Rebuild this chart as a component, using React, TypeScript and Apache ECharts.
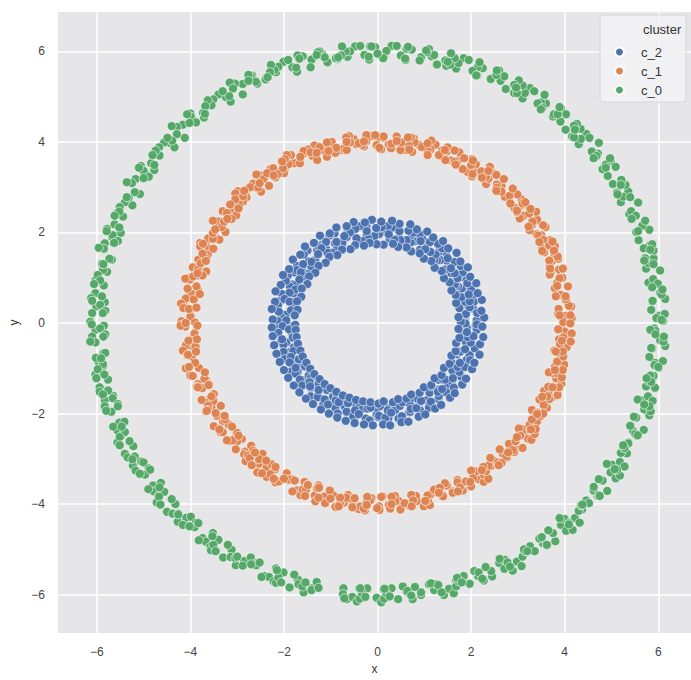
import React, { useEffect, useRef } from "react";
import * as echarts from "echarts";

const clusterNames = ["c_2", "c_1", "c_0"];
const clusterColors = ["#4c72b0", "#dd8452", "#55a868"];
const legendTitle = "cluster";
const xAxisName = "x";
const yAxisName = "y";
const xRange = [-6.83, 6.7];
const yRange = [-6.85, 6.87];

// cluster c_2 (inner ring)
const c2Points: number[][] = [
  [2.12,0.06],[1.91,-0.11],[1.87,0.13],[2.10,-0.05],[2.04,0.32],[1.85,0.14],[2.13,0.22],[1.94,0.36],[1.89,0.20],[2.06,0.47],
  [1.97,0.35],[1.80,0.56],[2.07,0.63],[1.87,0.47],[1.80,0.76],[1.97,0.48],[2.00,0.74],[1.79,0.57],[1.72,0.81],[1.95,0.63],
  [1.86,1.00],[1.67,0.82],[1.92,0.88],[1.73,1.02],[1.65,0.85],[1.82,1.12],[1.71,0.99],[1.54,1.20],[1.78,1.26],[1.58,1.10],
  [1.48,1.38],[1.65,1.10],[1.65,1.35],[1.44,1.18],[1.34,1.39],[1.57,1.21],[1.46,1.56],[1.27,1.38],[1.50,1.43],[1.31,1.57],
  [1.21,1.38],[1.38,1.65],[1.24,1.51],[1.07,1.72],[1.29,1.75],[1.09,1.59],[0.96,1.85],[1.13,1.57],[1.12,1.79],[0.91,1.62],
  [0.79,1.81],[1.02,1.63],[0.90,1.96],[0.71,1.78],[0.92,1.81],[0.73,1.95],[0.60,1.73],[0.77,2.00],[0.62,1.83],[0.45,2.04],
  [0.66,2.04],[0.46,1.88],[0.32,2.11],[0.49,1.83],[0.47,2.03],[0.26,1.86],[0.13,2.02],[0.36,1.84],[0.22,2.14],[0.03,1.96],
  [0.24,1.96],[0.05,2.10],
  [-0.08,1.85],[0.09,2.12],[-0.07,1.92],[-0.24,2.13],[-0.03,2.10],[-0.23,1.94],[-0.37,2.14],[-0.20,1.86],[-0.23,2.03],[-0.44,1.86],
  [-0.56,1.99],[-0.33,1.81],[-0.47,2.08],[-0.66,1.90],[-0.45,1.87],[-0.64,2.01],[-0.76,1.73],[-0.59,2.00],[-0.75,1.77],[-0.92,1.98],
  [-0.71,1.92],[-0.91,1.76],[-1.03,1.93],[-0.86,1.65],[-0.88,1.79],[-1.09,1.62],[-1.20,1.73],[-0.97,1.55],[-1.10,1.79],[-1.29,1.61],
  [-1.07,1.55],[-1.26,1.69],[-1.37,1.38],[-1.20,1.65],[-1.33,1.39],[-1.50,1.60],[-1.27,1.52],[-1.47,1.36],[-1.58,1.51],[-1.41,1.23],
  [-1.41,1.35],[-1.62,1.18],[-1.72,1.26],[-1.49,1.08],[-1.59,1.30],[-1.78,1.12],[-1.54,1.03],[-1.73,1.17],[-1.81,0.85],[-1.64,1.12],
  [-1.75,0.84],[-1.92,1.05],[-1.67,0.96],[-1.87,0.80],[-1.96,0.93],[-1.79,0.65],[-1.76,0.74],[-1.97,0.57],[-2.04,0.64],[-1.81,0.46],
  [-1.88,0.67],[-2.07,0.49],[-1.80,0.39],[-1.99,0.53],[-2.05,0.20],[-1.88,0.47],[-1.96,0.18],[-2.13,0.39],[-1.85,0.28],[-2.05,0.12],
  [-2.11,0.25],[-1.94,-0.03],
  [-2.13,0.04],[-1.90,-0.14],[-1.95,0.06],[-2.14,-0.12],[-1.84,-0.21],[-2.03,-0.07],[-2.06,-0.41],[-1.89,-0.14],[-1.95,-0.43],[-2.12,-0.22],
  [-1.81,-0.32],[-2.01,-0.48],[-2.04,-0.36],[-1.87,-0.64],[-1.79,-0.54],[-2.00,-0.71],[-2.01,-0.64],[-1.78,-0.82],[-1.80,-0.62],[-1.99,-0.80],
  [-1.66,-0.89],[-1.85,-0.75],[-1.85,-1.07],[-1.68,-0.80],[-1.71,-1.08],[-1.88,-0.87],[-1.55,-0.96],[-1.75,-1.12],[-1.75,-0.99],[-1.58,-1.27],
  [-1.47,-1.16],[-1.68,-1.33],[-1.66,-1.25],[-1.43,-1.43],[-1.42,-1.20],[-1.61,-1.38],[-1.26,-1.45],[-1.45,-1.31],[-1.43,-1.62],[-1.26,-1.35],
  [-1.27,-1.61],[-1.44,-1.40],[-1.08,-1.48],[-1.28,-1.64],[-1.26,-1.48],[-1.09,-1.76],[-0.95,-1.63],[-1.16,-1.80],[-1.13,-1.69],[-0.90,-1.87],
  [-0.87,-1.62],[-1.06,-1.80],[-0.70,-1.85],[-0.89,-1.71],[-0.85,-2.00],[-0.68,-1.73],[-0.66,-1.96],[-0.83,-1.75],[-0.46,-1.80],[-0.66,-1.96],
  [-0.63,-1.77],[-0.46,-2.05],[-0.31,-1.89],[-0.52,-2.06],[-0.48,-1.93],[-0.25,-2.11],[-0.21,-1.83],[-0.40,-2.01],[-0.02,-2.03],[-0.21,-1.89],
  [-0.17,-2.15],[0.00,-1.88],
  [0.02,-2.08],[-0.15,-1.87],[0.23,-1.89],[0.03,-2.05],[0.06,-1.83],[0.23,-2.11],[0.38,-1.92],[0.17,-2.09],[0.22,-1.93],[0.45,-2.11],
  [0.48,-1.80],[0.29,-1.98],[0.67,-1.97],[0.48,-1.83],[0.52,-2.06],[0.69,-1.79],[0.70,-1.96],[0.53,-1.75],[0.91,-1.74],[0.71,-1.90],
  [0.74,-1.65],[0.91,-1.93],[1.04,-1.71],[0.83,-1.88],[0.87,-1.69],[1.10,-1.87],[1.12,-1.54],[0.93,-1.72],[1.30,-1.68],[1.11,-1.54],
  [1.14,-1.74],[1.31,-1.47],[1.31,-1.61],[1.14,-1.40],[1.49,-1.36],[1.29,-1.52],[1.30,-1.25],[1.47,-1.53],[1.59,-1.29],[1.38,-1.46],
  [1.40,-1.25],[1.63,-1.43],[1.64,-1.07],[1.45,-1.25],[1.79,-1.19],[1.60,-1.05],[1.61,-1.22],[1.78,-0.95],[1.75,-1.08],[1.58,-0.87],
  [1.91,-0.81],[1.71,-0.97],[1.70,-0.69],[1.87,-0.97],[1.97,-0.71],[1.76,-0.88],[1.75,-0.64],[1.98,-0.82],[1.96,-0.45],[1.77,-0.63],
  [2.08,-0.56],[1.89,-0.42],[1.87,-0.58],[2.04,-0.31],[1.99,-0.43],[1.82,-0.22],[2.12,-0.15],[1.92,-0.31],[1.88,-0.01],[2.05,-0.29],
  [2.12,-0.03],[1.91,-0.20],
  [1.78,0.03],[1.73,0.13],[1.75,0.33],[1.68,0.44],[1.67,0.62],[1.58,0.72],[1.54,0.90],[1.42,0.99],[1.37,1.15],[1.22,1.22],
  [1.15,1.37],[0.99,1.42],[0.90,1.54],[0.72,1.58],[0.62,1.67],[0.44,1.68],[0.33,1.75],[0.13,1.73],
  [2.28,0.12],[2.22,0.27],[2.23,0.51],[2.14,0.66],[2.11,0.88],[1.98,1.02],[1.93,1.23],[1.77,1.36],[1.69,1.55],[1.51,1.65],
  [1.40,1.81],[1.19,1.89],[1.06,2.02],[0.84,2.07],[0.70,2.18],[0.47,2.19],[0.31,2.26],[0.08,2.24],
  [-0.02,1.74],[-0.17,1.77],[-0.29,1.71],[-0.48,1.72],[-0.58,1.63],[-0.76,1.62],[-0.86,1.50],[-1.03,1.46],[-1.11,1.33],[-1.26,1.26],
  [-1.33,1.11],[-1.46,1.03],[-1.50,0.86],[-1.62,0.76],[-1.63,0.58],[-1.72,0.48],[-1.71,0.29],[-1.77,0.17],
  [-0.12,2.28],[-0.27,2.22],[-0.51,2.23],[-0.66,2.14],[-0.88,2.11],[-1.02,1.98],[-1.23,1.93],[-1.36,1.77],[-1.55,1.69],[-1.65,1.51],
  [-1.81,1.40],[-1.89,1.19],[-2.02,1.06],[-2.07,0.84],[-2.18,0.70],[-2.19,0.47],[-2.26,0.31],[-2.24,0.08],
  [-1.76,-0.04],[-1.75,-0.15],[-1.73,-0.31],[-1.70,-0.46],[-1.65,-0.61],[-1.60,-0.74],[-1.52,-0.88],[-1.44,-1.01],[-1.35,-1.13],[-1.24,-1.24],
  [-1.13,-1.35],[-1.01,-1.44],[-0.88,-1.52],[-0.74,-1.60],[-0.60,-1.65],[-0.46,-1.70],[-0.31,-1.73],[-0.15,-1.75],
  [-2.26,-0.10],[-2.24,-0.29],[-2.21,-0.49],[-2.16,-0.68],[-2.09,-0.86],[-2.00,-1.04],[-1.91,-1.21],[-1.79,-1.38],[-1.67,-1.53],[-1.53,-1.67],
  [-1.38,-1.79],[-1.21,-1.91],[-1.04,-2.00],[-0.86,-2.09],[-0.68,-2.16],[-0.49,-2.21],[-0.29,-2.24],[-0.10,-2.26],
  [0.02,-1.78],[0.13,-1.73],[0.33,-1.75],[0.44,-1.68],[0.62,-1.67],[0.72,-1.58],[0.90,-1.54],[0.99,-1.42],[1.15,-1.37],[1.22,-1.22],
  [1.37,-1.15],[1.42,-0.99],[1.54,-0.90],[1.58,-0.72],[1.67,-0.62],[1.68,-0.44],[1.75,-0.33],[1.73,-0.13],
  [0.12,-2.24],[0.27,-2.26],[0.51,-2.19],[0.66,-2.18],[0.88,-2.07],[1.02,-2.02],[1.23,-1.89],[1.36,-1.81],[1.55,-1.65],[1.65,-1.55],
  [1.81,-1.36],[1.89,-1.23],[2.02,-1.02],[2.07,-0.88],[2.18,-0.70],[2.19,-0.47],[2.26,-0.31],[2.24,-0.08]
];

// cluster c_1 (middle ring)
const c1Points: number[][] = [
  [4.10,0.05],[3.92,-0.12],[4.02,0.16],[3.86,0.20],[4.15,0.11],[3.97,0.02],[4.04,0.49],[3.87,0.31],[4.14,0.36],
  [3.92,0.61],[4.09,0.38],[3.82,0.63],[4.07,0.81],[3.92,0.62],[4.02,0.53],[3.79,0.77],[3.95,1.00],[3.84,0.89],
  [3.89,0.99],[3.70,1.12],[3.97,1.21],[3.72,1.36],[3.88,1.18],[3.68,1.07],[3.86,1.42],[3.68,1.25],[3.78,1.53],
  [3.56,1.56],[3.85,1.47],[3.67,1.38],[3.69,1.83],[3.52,1.65],[3.79,1.70],[3.50,1.94],[3.67,1.71],[3.40,1.96],
  [3.59,2.12],[3.44,1.93],[3.54,1.84],[3.25,2.05],[3.41,2.28],[3.30,2.17],[3.31,2.24],[3.12,2.37],[3.39,2.46],
  [3.08,2.60],[3.24,2.42],[3.04,2.31],[3.16,2.62],[2.98,2.45],[3.08,2.73],[2.81,2.73],[3.10,2.64],[2.92,2.55],
  [2.89,2.97],[2.72,2.79],[2.99,2.84],[2.65,3.04],[2.82,2.81],[2.55,3.06],[2.70,3.18],[2.55,2.99],[2.65,2.90],
  [2.32,3.07],[2.48,3.30],[2.37,3.19],[2.32,3.23],[2.13,3.36],[2.40,3.45],[2.06,3.53],[2.22,3.35],[2.02,3.24],
  [2.10,3.51],[1.92,3.34],[2.02,3.62],[1.71,3.58],[2.00,3.49],[1.82,3.40],[1.75,3.77],[1.58,3.59],[1.85,3.64],
  [1.48,3.79],[1.65,3.56],[1.38,3.81],[1.50,3.88],[1.35,3.69],[1.45,3.60],[1.08,3.71],[1.24,3.94],[1.13,3.83],
  [1.07,3.81],[0.88,3.94],[1.15,4.03],[0.78,4.07],[0.94,3.89],[0.74,3.78],[0.79,3.99],[0.61,3.82],[0.71,4.10],
  [0.38,4.00],[0.67,3.91],[0.49,3.82],[0.41,4.12],[0.24,3.94],[0.51,3.99],[0.12,4.09],[0.29,3.86],[0.02,4.11],
  [0.13,4.12],[-0.02,3.93],[0.08,3.84],[-0.29,3.90],[-0.13,4.13],[-0.24,4.02],[-0.32,3.93],[-0.51,4.06],[-0.24,4.15],
  [-0.61,4.13],[-0.45,3.95],[-0.65,3.84],[-0.59,3.99],[-0.77,3.82],[-0.67,4.10],[-1.01,3.94],[-0.72,3.85],[-0.90,3.76],
  [-0.98,4.00],[-1.15,3.82],[-0.88,3.87],[-1.25,3.90],[-1.08,3.67],[-1.35,3.92],[-1.24,3.88],[-1.39,3.69],[-1.29,3.60],
  [-1.65,3.60],[-1.49,3.83],[-1.60,3.72],[-1.66,3.58],[-1.85,3.71],[-1.58,3.80],[-1.94,3.71],[-1.78,3.53],[-1.98,3.42],
  [-1.90,3.51],[-2.08,3.34],[-1.98,3.62],[-2.29,3.40],[-2.00,3.31],[-2.18,3.22],[-2.23,3.42],[-2.40,3.24],[-2.13,3.29],
  [-2.49,3.26],[-2.32,3.03],[-2.59,3.28],[-2.44,3.18],[-2.59,2.99],[-2.49,2.90],[-2.82,2.85],[-2.66,3.08],[-2.77,2.97],
  [-2.80,2.78],[-2.99,2.91],[-2.72,3.00],[-3.04,2.86],[-2.88,2.68],[-3.08,2.57],[-2.96,2.62],[-3.14,2.45],[-3.04,2.73],
  [-3.31,2.47],[-3.02,2.38],[-3.20,2.29],[-3.22,2.43],[-3.39,2.25],[-3.12,2.30],[-3.42,2.24],[-3.25,2.01],[-3.52,2.26],
  [-3.33,2.12],[-3.48,1.93],[-3.38,1.84],[-3.67,1.75],[-3.51,1.98],[-3.62,1.87],[-3.60,1.64],[-3.79,1.77],[-3.52,1.86],
  [-3.79,1.69],[-3.63,1.51],[-3.83,1.40],[-3.66,1.42],[-3.84,1.25],[-3.74,1.53],[-3.95,1.23],[-3.66,1.14],[-3.84,1.05],
  [-3.84,1.18],[-4.01,1.00],[-3.74,1.05],[-4.01,0.96],[-3.84,0.73],[-4.11,0.98],[-3.87,0.81],[-4.02,0.62],[-3.92,0.53],
  [-4.15,0.42],[-3.99,0.65],[-4.10,0.54],[-4.01,0.30],[-4.20,0.43],[-3.93,0.52],[-4.15,0.33],[-3.99,0.15],[-4.19,0.04],
  [-4.00,0.14],[-4.17,-0.04],[-3.90,0.01],[-4.11,-0.08],[-3.94,-0.31],[-4.21,-0.06],[-3.91,-0.23],[-4.06,-0.42],[-3.96,-0.51],
  [-4.15,-0.62],[-3.99,-0.39],[-4.10,-0.50],[-3.97,-0.74],[-4.16,-0.61],[-3.89,-0.52],[-4.06,-0.71],[-3.90,-0.89],[-4.10,-1.00],
  [-3.82,-0.99],[-4.00,-1.16],[-3.90,-0.88],[-3.95,-1.17],[-3.66,-1.26],[-3.84,-1.35],[-3.70,-1.23],[-3.87,-1.41],[-3.60,-1.36],
  [-3.75,-1.44],[-3.58,-1.67],[-3.85,-1.42],[-3.50,-1.57],[-3.65,-1.76],[-3.55,-1.85],[-3.67,-1.95],[-3.51,-1.72],[-3.62,-1.83],
  [-3.43,-2.05],[-3.62,-1.92],[-3.35,-1.83],[-3.46,-1.99],[-3.30,-2.17],[-3.50,-2.28],[-3.18,-2.24],[-3.36,-2.41],[-3.26,-2.13],
  [-3.31,-2.41],[-3.02,-2.50],[-3.20,-2.59],[-3.00,-2.43],[-3.17,-2.61],[-2.90,-2.56],[-3.00,-2.61],[-2.83,-2.84],[-3.10,-2.59],
  [-2.70,-2.71],[-2.85,-2.90],[-2.75,-2.99],[-2.82,-3.05],[-2.66,-2.82],[-2.77,-2.93],[-2.54,-3.11],[-2.73,-2.98],[-2.46,-2.89],
  [-2.53,-3.01],[-2.37,-3.19],[-2.57,-3.30],[-2.19,-3.23],[-2.37,-3.40],[-2.27,-3.12],[-2.29,-3.34],[-2.00,-3.43],[-2.18,-3.52],
  [-1.94,-3.32],[-2.11,-3.50],[-1.84,-3.45],[-1.90,-3.46],[-1.73,-3.69],[-2.00,-3.44],[-1.56,-3.51],[-1.71,-3.70],[-1.61,-3.79],
  [-1.65,-3.80],[-1.49,-3.57],[-1.60,-3.68],[-1.34,-3.81],[-1.53,-3.68],[-1.26,-3.59],[-1.29,-3.65],[-1.13,-3.83],[-1.33,-3.94],
  [-0.94,-3.81],[-1.12,-3.98],[-1.02,-3.70],[-1.01,-3.88],[-0.72,-3.97],[-0.90,-4.06],[-0.63,-3.80],[-0.80,-3.98],[-0.53,-3.93],
  [-0.57,-3.88],[-0.40,-4.11],[-0.67,-3.86],[-0.22,-3.86],[-0.37,-4.05],[-0.27,-4.14],[-0.29,-4.10],[-0.13,-3.87],[-0.24,-3.98],
  [0.03,-4.05],[-0.16,-3.92],[0.11,-3.83],[0.08,-3.84],[0.24,-4.02],[0.04,-4.13],[0.45,-3.93],[0.27,-4.10],[0.37,-3.82],
  [0.38,-3.94],[0.67,-4.03],[0.49,-4.12],[0.75,-3.80],[0.58,-3.98],[0.85,-3.93],[0.82,-3.82],[0.99,-4.05],[0.72,-3.80],
  [1.17,-3.74],[1.02,-3.93],[1.12,-4.02],[1.08,-3.91],[1.24,-3.68],[1.13,-3.79],[1.40,-3.81],[1.21,-3.68],[1.48,-3.59],
  [1.44,-3.54],[1.60,-3.72],[1.40,-3.83],[1.79,-3.58],[1.61,-3.75],[1.71,-3.47],[1.71,-3.52],[2.00,-3.61],[1.82,-3.70],
  [2.06,-3.32],[1.89,-3.50],[2.16,-3.45],[2.10,-3.28],[2.27,-3.51],[2.00,-3.26],[2.42,-3.16],[2.27,-3.35],[2.37,-3.44],
  [2.32,-3.27],[2.48,-3.04],[2.37,-3.15],[2.60,-3.11],[2.41,-2.98],[2.68,-2.89],[2.61,-2.79],[2.77,-2.97],[2.57,-3.08],
  [2.93,-2.78],[2.75,-2.95],[2.85,-2.67],[2.81,-2.67],[3.10,-2.76],[2.92,-2.85],[3.12,-2.43],[2.95,-2.61],[3.22,-2.56],
  [3.12,-2.35],[3.29,-2.58],[3.02,-2.33],[3.41,-2.17],[3.26,-2.36],[3.36,-2.45],[3.25,-2.25],[3.41,-2.02],[3.30,-2.13],
  [3.49,-2.05],[3.30,-1.92],[3.57,-1.83],[3.46,-1.69],[3.62,-1.87],[3.42,-1.98],[3.73,-1.64],[3.55,-1.81],[3.65,-1.53],
  [3.56,-1.50],[3.85,-1.59],[3.67,-1.68],[3.82,-1.23],[3.65,-1.41],[3.92,-1.36],[3.76,-1.11],[3.93,-1.34],[3.66,-1.09],
  [3.99,-0.92],[3.84,-1.11],[3.94,-1.20],[3.79,-0.97],[3.95,-0.74],[3.84,-0.85],[3.97,-0.74],[3.78,-0.61],[4.05,-0.52],
  [3.88,-0.36],[4.04,-0.54],[3.84,-0.65],[4.08,-0.30],[3.90,-0.47],[4.00,-0.19],[3.86,-0.14],[4.15,-0.23],[3.97,-0.32],
  [4.12,0.17],[3.89,0.17],[4.02,0.59],[3.81,0.59],[4.07,0.81],[3.84,0.82],[3.96,1.20],[3.69,1.20],[3.77,1.60],[3.52,1.59],
  [3.74,1.80],[3.46,1.79],[3.54,2.16],[3.23,2.13],[3.27,2.52],[2.98,2.48],[3.16,2.67],[2.84,2.64],[2.89,2.97],[2.54,2.92],
  [2.54,3.27],[2.23,3.21],[2.37,3.36],[2.03,3.29],[2.04,3.59],[1.67,3.50],[1.65,3.81],[1.31,3.71],[1.44,3.82],[1.07,3.71],
  [1.07,3.97],[0.68,3.83],[0.65,4.10],[0.30,3.96],[0.41,4.02],[0.04,3.87],
  [-0.05,4.15],[-0.40,3.97],[-0.29,4.01],[-0.66,3.82],[-0.66,4.00],[-1.05,3.80],[-1.08,3.99],[-1.43,3.77],[-1.30,3.76],[-1.66,3.53],
  [-1.65,3.67],[-2.02,3.42],[-2.04,3.57],[-2.36,3.31],[-2.22,3.26],[-2.55,2.99],[-2.52,3.09],[-2.87,2.80],[-2.85,2.92],[-3.15,2.62],
  [-2.97,2.53],[-3.28,2.24],[-3.21,2.30],[-3.52,1.99],[-3.47,2.07],[-3.73,1.75],[-3.51,1.64],[-3.78,1.32],[-3.67,1.37],[-3.94,1.03],
  [-3.85,1.10],[-4.06,0.76],[-3.80,0.64],[-4.03,0.31],[-3.87,0.34],[-4.10,0.00],
  [-3.85,-0.06],[-4.04,-0.39],[-3.86,-0.36],[-4.05,-0.70],[-3.88,-0.63],[-4.03,-0.97],[-3.69,-1.09],[-3.84,-1.42],[-3.61,-1.37],[-3.76,-1.70],
  [-3.55,-1.62],[-3.65,-1.94],[-3.27,-2.05],[-3.38,-2.35],[-3.11,-2.29],[-3.22,-2.59],[-2.97,-2.49],[-3.03,-2.79],[-2.62,-2.86],[-2.69,-3.14],
  [-2.38,-3.04],[-2.47,-3.32],[-2.18,-3.18],[-2.22,-3.44],[-1.77,-3.48],[-1.82,-3.72],[-1.49,-3.58],[-1.55,-3.82],[-1.25,-3.64],[-1.26,-3.86],
  [-0.80,-3.86],[-0.83,-4.05],[-0.49,-3.87],[-0.54,-4.07],[-0.22,-3.84],[-0.23,-4.02],
  [-0.01,-4.09],[0.30,-3.84],[0.30,-4.00],[0.76,-3.92],[0.73,-4.05],[1.07,-3.81],[1.02,-3.93],[1.33,-3.64],[1.31,-3.75],[1.76,-3.63],
  [1.72,-3.72],[2.04,-3.43],[1.98,-3.51],[2.26,-3.18],[2.23,-3.25],[2.65,-3.09],[2.59,-3.14],[2.89,-2.81],[2.79,-2.86],[3.05,-2.49],
  [2.98,-2.52],[3.38,-2.34],[3.28,-2.35],[3.54,-2.00],[3.41,-2.01],[3.63,-1.62],[3.52,-1.63],[3.88,-1.42],[3.74,-1.42],[3.96,-1.04],
  [3.79,-1.04],[3.96,-0.63],[3.81,-0.63],[4.13,-0.41],[3.94,-0.39],[4.12,-0.01]
];

// cluster c_0 (outer ring)
const c0Points: number[][] = [
  [6.10,0.05],[5.92,-0.12],[6.02,0.16],[5.85,0.29],[6.14,0.20],[5.96,0.11],[6.04,0.66],[5.87,0.48],[6.15,0.53],
  [5.90,0.87],[6.07,0.63],[5.79,0.89],[6.04,1.16],[5.89,0.97],[5.99,0.87],[5.74,1.20],[5.90,1.43],[5.79,1.32],
  [5.90,1.60],[5.72,1.43],[5.82,1.71],[5.58,1.83],[5.87,1.74],[5.69,1.65],[5.70,2.19],[5.53,2.01],[5.81,2.06],
  [5.49,2.39],[5.66,2.15],[5.38,2.41],[5.57,2.66],[5.42,2.47],[5.52,2.37],[5.20,2.67],[5.36,2.90],[5.25,2.79],
  [5.30,3.05],[5.12,2.88],[5.22,3.16],[4.92,3.25],[5.21,3.16],[5.03,3.07],[4.98,3.58],[4.81,3.40],[5.09,3.45],
  [4.71,3.74],[4.88,3.50],[4.60,3.76],[4.73,3.98],[4.58,3.79],[4.68,3.69],[4.30,3.95],[4.46,4.18],[4.35,4.07],
  [4.34,4.29],[4.16,4.12],[4.26,4.40],[3.91,4.45],[4.20,4.36],[4.02,4.27],[3.92,4.74],[3.75,4.56],[4.03,4.61],
  [3.60,4.85],[3.77,4.61],[3.49,4.87],[3.57,5.04],[3.42,4.85],[3.52,4.75],[3.10,4.96],[3.26,5.19],[3.15,5.08],
  [3.10,5.25],[2.92,5.08],[3.02,5.36],[2.63,5.35],[2.92,5.26],[2.74,5.17],[2.60,5.58],[2.43,5.40],[2.71,5.45],
  [2.25,5.63],[2.42,5.39],[2.14,5.65],[2.18,5.76],[2.03,5.57],[2.13,5.47],[1.68,5.62],[1.84,5.85],[1.73,5.74],
  [1.65,5.85],[1.47,5.68],[1.57,5.96],[1.16,5.89],[1.45,5.80],[1.27,5.71],[1.10,6.05],[0.93,5.87],[1.21,5.92],
  [0.73,6.04],[0.90,5.80],[0.62,6.06],[0.65,6.10],[0.50,5.91],[0.60,5.81],[0.14,5.89],[0.30,6.12],[0.19,6.01],
  [-0.05,6.09],[0.12,5.85],[-0.16,6.11],[-0.13,6.11],[-0.28,5.92],[-0.18,5.82],[-0.64,5.88],[-0.48,6.11],[-0.59,6.00],
  [-0.68,6.00],[-0.86,5.83],[-0.76,6.11],[-1.18,5.94],[-0.89,5.85],[-1.07,5.76],[-1.24,6.00],[-1.41,5.82],[-1.13,5.87],
  [-1.60,5.89],[-1.43,5.65],[-1.71,5.91],[-1.67,5.84],[-1.82,5.65],[-1.72,5.55],[-2.17,5.54],[-2.01,5.77],[-2.12,5.66],
  [-2.20,5.59],[-2.38,5.42],[-2.28,5.70],[-2.68,5.47],[-2.39,5.38],[-2.57,5.29],[-2.71,5.46],[-2.88,5.28],[-2.60,5.33],
  [-3.05,5.29],[-2.88,5.05],[-3.16,5.31],[-3.09,5.18],[-3.24,4.99],[-3.14,4.89],[-3.56,4.82],[-3.40,5.05],[-3.51,4.94],
  [-3.55,4.81],[-3.73,4.64],[-3.63,4.92],[-4.00,4.63],[-3.71,4.54],[-3.89,4.45],[-3.99,4.56],[-4.16,4.38],[-3.88,4.43],
  [-4.29,4.33],[-4.12,4.09],[-4.40,4.35],[-4.29,4.17],[-4.44,3.98],[-4.34,3.88],[-4.72,3.76],[-4.56,3.99],[-4.67,3.88],
  [-4.66,3.70],[-4.84,3.53],[-4.74,3.81],[-5.06,3.47],[-4.77,3.38],[-4.95,3.29],[-5.00,3.36],[-5.17,3.18],[-4.89,3.23],
  [-5.25,3.09],[-5.08,2.85],[-5.36,3.11],[-5.19,2.89],[-5.34,2.70],[-5.24,2.60],[-5.56,2.44],[-5.40,2.67],[-5.51,2.56],
  [-5.44,2.35],[-5.62,2.18],[-5.52,2.46],[-5.78,2.08],[-5.49,1.99],[-5.67,1.90],[-5.66,1.94],[-5.83,1.76],[-5.55,1.81],
  [-5.85,1.64],[-5.68,1.40],[-5.96,1.66],[-5.73,1.42],[-5.88,1.23],[-5.78,1.13],[-6.03,0.94],[-5.87,1.17],[-5.98,1.06],
  [-5.85,0.83],[-6.03,0.66],[-5.93,0.94],[-6.12,0.55],[-5.83,0.46],[-6.01,0.37],[-5.93,0.40],[-6.10,0.22],[-5.82,0.27],
  [-6.14,0.03],[-5.85,-0.06],[-6.03,-0.15],[-5.93,-0.12],[-6.10,-0.30],[-5.82,-0.25],[-6.03,-0.43],[-5.86,-0.67],[-6.14,-0.41],
  [-5.82,-0.66],[-5.97,-0.85],[-5.87,-0.95],[-6.03,-1.14],[-5.87,-0.91],[-5.98,-1.02],[-5.76,-1.25],[-5.94,-1.42],[-5.84,-1.14],
  [-5.94,-1.52],[-5.65,-1.61],[-5.83,-1.70],[-5.66,-1.66],[-5.83,-1.84],[-5.55,-1.79],[-5.69,-1.96],[-5.52,-2.20],[-5.80,-1.94],
  [-5.41,-2.18],[-5.56,-2.37],[-5.46,-2.47],[-5.56,-2.64],[-5.40,-2.41],[-5.51,-2.52],[-5.22,-2.72],[-5.40,-2.89],[-5.30,-2.61],
  [-5.34,-2.97],[-5.05,-3.06],[-5.23,-3.15],[-5.00,-3.08],[-5.17,-3.26],[-4.89,-3.21],[-4.97,-3.35],[-4.80,-3.59],[-5.08,-3.33],
  [-4.63,-3.53],[-4.78,-3.72],[-4.68,-3.82],[-4.72,-3.96],[-4.56,-3.73],[-4.67,-3.84],[-4.32,-4.00],[-4.50,-4.17],[-4.40,-3.89],
  [-4.38,-4.21],[-4.09,-4.30],[-4.27,-4.39],[-3.99,-4.28],[-4.16,-4.46],[-3.88,-4.41],[-3.91,-4.51],[-3.74,-4.75],[-4.02,-4.49],
  [-3.52,-4.64],[-3.67,-4.83],[-3.57,-4.93],[-3.56,-5.02],[-3.40,-4.79],[-3.51,-4.90],[-3.12,-5.01],[-3.30,-5.18],[-3.20,-4.90],
  [-3.14,-5.17],[-2.85,-5.26],[-3.03,-5.35],[-2.71,-5.18],[-2.88,-5.36],[-2.60,-5.31],[-2.59,-5.35],[-2.42,-5.59],[-2.70,-5.33],
  [-2.17,-5.42],[-2.32,-5.61],[-2.22,-5.71],[-2.17,-5.74],[-2.01,-5.51],[-2.12,-5.62],[-1.70,-5.67],[-1.88,-5.84],[-1.78,-5.56],
  [-1.69,-5.77],[-1.40,-5.86],[-1.58,-5.95],[-1.30,-5.72],[-1.41,-5.90],[-1.26,-5.85],
  [-0.73,-5.86],[-0.66,-6.10],[-0.74,-5.99],[-0.39,-5.86],[-0.54,-6.05],[-0.44,-6.15],[-0.38,-6.09],[-0.22,-5.86],[-0.33,-5.97],
  [0.13,-5.88],[-0.02,-6.07],[0.08,-6.17],[0.14,-6.09],[0.30,-5.86],[0.19,-5.97],[0.62,-5.93],[0.44,-6.10],[0.54,-5.82],
  [0.64,-5.92],[0.93,-6.01],[0.75,-6.10],[1.10,-5.77],[0.93,-5.95],[1.21,-5.90],[1.25,-5.77],[1.42,-6.01],[1.14,-5.75],
  [1.68,-5.68],[1.53,-5.87],[1.63,-5.97],[1.68,-5.82],[1.84,-5.59],[1.73,-5.70],[2.15,-5.59],[1.97,-5.76],[2.07,-5.48],
  [2.16,-5.51],[2.45,-5.60],[2.27,-5.69],[2.60,-5.30],[2.43,-5.48],[2.71,-5.43],[2.72,-5.23],[2.89,-5.47],[2.61,-5.21],
  [3.13,-5.08],[2.98,-5.27],[3.08,-5.37],[3.10,-5.16],[3.26,-4.93],[3.15,-5.04],[3.54,-4.87],[3.36,-5.04],[3.46,-4.76],
  [3.51,-4.73],[3.80,-4.82],[3.62,-4.91],[3.92,-4.46],[3.75,-4.64],[4.03,-4.59],[4.00,-4.33],[4.17,-4.57],[3.89,-4.31],
  [4.37,-4.12],[4.22,-4.31],[4.32,-4.41],[4.30,-4.15],[4.46,-3.92],[4.35,-4.03],[4.70,-3.81],[4.52,-3.98],[4.62,-3.70],
  [4.62,-3.62],[4.91,-3.71],[4.73,-3.80],[4.98,-3.30],[4.81,-3.48],[5.09,-3.43],[5.01,-3.13],[5.18,-3.37],[4.90,-3.11],
  [5.33,-2.88],[5.18,-3.07],[5.28,-3.17],[5.20,-2.87],[5.36,-2.64],[5.25,-2.75],[5.54,-2.49],[5.36,-2.66],[5.46,-2.38],
  [5.40,-2.27],[5.69,-2.36],[5.51,-2.45],[5.70,-1.91],[5.53,-2.09],[5.81,-2.04],[5.67,-1.71],[5.84,-1.95],[5.56,-1.69],
  [5.93,-1.43],[5.78,-1.62],[5.88,-1.72],[5.74,-1.40],[5.90,-1.17],[5.79,-1.28],[6.01,-0.99],[5.83,-1.16],[5.93,-0.88],
  [5.81,-0.75],[6.10,-0.84],[5.92,-0.93],[6.04,-0.38],[5.87,-0.56],[6.15,-0.51],[5.94,-0.17],[6.11,-0.41],[5.83,-0.15],
  [6.07,0.07],[5.88,0.49],[6.09,0.74],[5.87,0.79],[5.90,1.30],[5.70,1.38],[5.83,1.62],[5.57,2.03],[5.72,2.26],[5.43,2.30],
  [5.40,2.78],[5.13,2.84],[5.20,3.05],[4.88,3.43],[4.97,3.64],[4.62,3.64],[4.53,4.09],[4.20,4.10],[4.22,4.27],[3.85,4.61],
  [3.89,4.77],[3.49,4.72],[3.35,5.12],[2.98,5.08],[2.96,5.20],[2.54,5.48],[2.55,5.58],[2.11,5.47],[1.95,5.81],[1.55,5.71],
  [1.50,5.77],[1.06,5.98],[1.04,6.02],[0.59,5.84],[0.41,6.12],[0.00,5.95],
  [-0.19,5.88],[-0.37,6.12],[-0.78,5.91],[-0.84,5.87],[-1.28,5.98],[-1.30,5.92],[-1.74,5.64],[-1.91,5.81],[-2.30,5.54],[-2.35,5.43],
  [-2.76,5.48],[-2.76,5.35],[-3.17,5.01],[-3.31,5.12],[-3.68,4.79],[-3.69,4.62],[-4.07,4.61],[-4.02,4.42],[-4.39,4.03],[-4.49,4.09],
  [-4.81,3.71],[-4.77,3.49],[-5.10,3.43],[-5.00,3.20],[-5.32,2.77],[-5.36,2.78],[-5.62,2.37],[-5.52,2.11],[-5.79,2.03],[-5.63,1.77],
  [-5.89,1.31],[-5.86,1.30],[-6.06,0.86],[-5.89,0.59],[-6.10,0.49],[-5.87,0.22],
  [-6.11,-0.03],[-5.86,-0.30],[-6.02,-0.77],[-5.91,-0.78],[-6.01,-1.22],[-5.76,-1.49],[-5.87,-1.58],[-5.55,-1.84],[-5.65,-2.29],[-5.47,-2.29],
  [-5.51,-2.70],[-5.19,-2.95],[-5.24,-3.01],[-4.86,-3.24],[-4.90,-3.67],[-4.66,-3.63],[-4.64,-4.01],[-4.26,-4.21],[-4.26,-4.23],[-3.83,-4.42],
  [-3.82,-4.80],[-3.53,-4.71],[-3.46,-5.04],[-3.04,-5.19],[-3.00,-5.16],[-2.52,-5.29],[-2.48,-5.61],[-2.15,-5.46],[-2.06,-5.73],[-1.61,-5.82],
  [-1.54,-5.73],[-0.71,-6.08],[-0.37,-5.86],[-0.26,-6.05],
  [0.15,-5.87],[0.26,-6.04],[0.72,-6.02],[0.80,-5.83],[1.30,-5.79],[1.37,-5.95],[1.70,-5.63],[1.80,-5.73],[2.24,-5.65],[2.31,-5.39],
  [2.78,-5.29],[2.83,-5.38],[3.13,-5.00],[3.20,-5.04],[3.62,-4.90],[3.65,-4.58],[4.09,-4.42],[4.09,-4.45],[4.35,-4.02],[4.38,-4.01],
  [4.75,-3.82],[4.73,-3.45],[5.12,-3.24],[5.07,-3.23],[5.28,-2.76],[5.25,-2.70],[5.56,-2.48],[5.48,-2.07],[5.81,-1.84],[5.70,-1.80],
  [5.85,-1.30],[5.75,-1.22],[6.00,-0.97],[5.85,-0.55],[6.12,-0.30],[5.94,-0.25]
];

const clusterData = [c2Points, c1Points, c0Points];

export default function App() {
  const ref = useRef<HTMLDivElement>(null);

  useEffect(() => {
    if (!ref.current) return;
    const chart = echarts.init(ref.current, null, { renderer: "svg" });
    const font = "'Liberation Sans', Arial, sans-serif";
    const fmt = (v: number) => {
      const r = Math.round(v);
      if (Math.abs(v - r) > 1e-6) return "";
      return r < 0 ? "\u2212" + Math.abs(r) : String(r);
    };
    const axisCommon = {
      type: "value" as const,
      splitNumber: 7,
      axisLine: { show: false },
      axisTick: { show: false },
      splitLine: { show: true, showMinLine: false, showMaxLine: false, lineStyle: { color: "#ffffff", width: 1.5 } },
      nameLocation: "middle" as const,
      nameTextStyle: { color: "#333333", fontSize: 12, fontFamily: font },
    };
    chart.setOption({
      animation: false,
      backgroundColor: "#ffffff",
      grid: {
        left: 55,
        top: 12,
        right: 0,
        bottom: 40,
        show: true,
        backgroundColor: "#e6e6e8",
        borderWidth: 0,
      },
      xAxis: {
        ...axisCommon,
        min: xRange[0],
        max: xRange[1],
        name: xAxisName,
        nameGap: 28,
        axisLabel: {
          color: "#444444",
          fontSize: 12,
          fontFamily: font,
          margin: 13,
          formatter: fmt,
          showMinLabel: false,
          showMaxLabel: false,
        },
      },
      yAxis: {
        ...axisCommon,
        min: yRange[0],
        max: yRange[1],
        name: yAxisName,
        nameGap: 38,
        nameRotate: 90,
        axisLabel: {
          color: "#444444",
          fontSize: 12,
          fontFamily: font,
          margin: 13,
          formatter: fmt,
          showMinLabel: false,
          showMaxLabel: false,
        },
      },
      legend: {
        orient: "vertical",
        left: 600,
        top: 15,
        data: clusterNames,
        icon: "circle",
        itemWidth: 9,
        itemHeight: 9,
        itemGap: 3,
        selectedMode: false,
        padding: [29, 24, 4, 14],
        backgroundColor: "rgba(242,242,244,0.85)",
        borderColor: "#d6d6d6",
        borderWidth: 1,
        borderRadius: 3,
        textStyle: { fontSize: 13, color: "#333333", fontFamily: font, lineHeight: 16, padding: [0, 0, 0, 12] },
      },
      graphic: [
        {
          type: "text",
          left: 643,
          top: 23,
          z: 100,
          style: { text: legendTitle, fontSize: 13, fill: "#333333", fontFamily: font },
        },
      ],
      series: clusterNames.map((name, i) => ({
        name,
        type: "scatter",
        data: clusterData[i],
        symbolSize: 9,
        itemStyle: { color: clusterColors[i], borderColor: "#ffffff", borderWidth: 0.6, opacity: 1 },
      })),
    });
    return () => chart.dispose();
  }, []);

  return <div ref={ref} style={{ position: "absolute", left: 0, top: 0, width: 691, height: 680 }} />;
}
